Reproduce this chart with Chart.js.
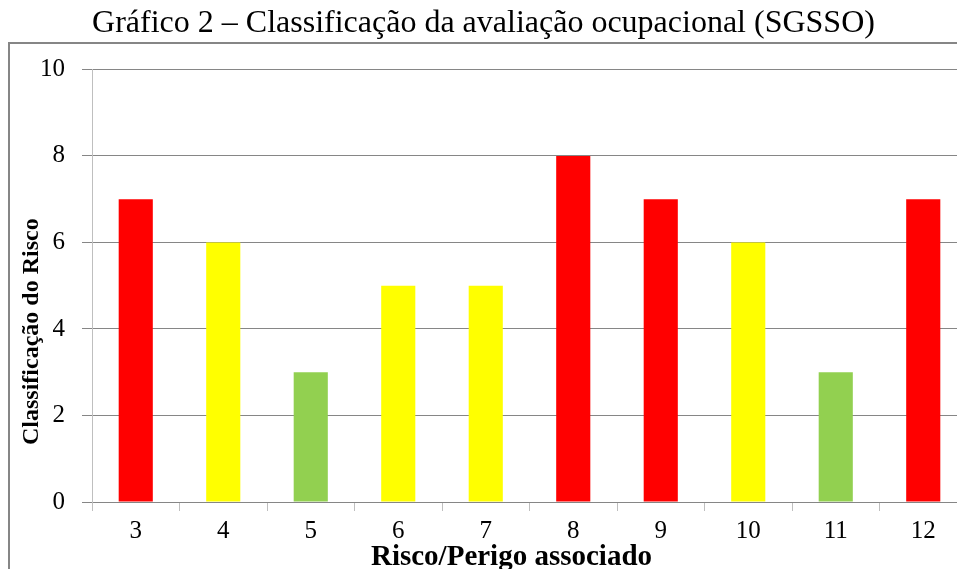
<!DOCTYPE html>
<html>
<head>
<meta charset="utf-8">
<script src="https://cdn.jsdelivr.net/npm/chart.js@4/dist/chart.umd.min.js"></script>
<style>
  html, body { margin: 0; padding: 0; background: #fff; overflow: hidden; }
  #wrap { width: 967px; height: 569px; position: relative; }
</style>
</head>
<body>
<div id="wrap"><canvas id="riskChart"></canvas></div>
<script>
const categories = ["3", "4", "5", "6", "7", "8", "9", "10", "11", "12"];
const riskValues = [7, 6, 3, 5, 5, 8, 7, 6, 3, 7];
const yTicks = [0, 2, 4, 6, 8, 10];

const chartTitle = "Gráfico 2 – Classificação da avaliação ocupacional (SGSSO)";
const xTitle = "Risco/Perigo associado";
const yTitle = "Classificação do Risco";

// cor pelo nível de risco
function riskColor(v) {
  if (v >= 7) return "#ff0000";
  if (v >= 5) return "#ffff00";
  return "#92d050";
}

const serif = "'Liberation Serif', 'Times New Roman', serif";

const frameAndTitles = {
  id: "frameAndTitles",
  beforeDraw(chart) {
    const ctx = chart.ctx;
    ctx.save();
    ctx.fillStyle = "#fff";
    ctx.fillRect(0, 0, chart.width, chart.height);
    ctx.strokeStyle = "#868686";
    ctx.lineWidth = 2;
    ctx.strokeRect(9, 43, chart.width + 20, chart.height + 20);
    ctx.restore();
  },
  afterDraw(chart) {
    const ctx = chart.ctx;
    const a = chart.chartArea;
    ctx.save();
    ctx.fillStyle = "#000";
    ctx.textAlign = "center";
    ctx.font = "bold 29px " + serif;
    ctx.textBaseline = "alphabetic";
    ctx.fillText(xTitle, (a.left + a.right) / 2 - 18, chart.height - 4);
    ctx.translate(a.left - 60, (a.top + a.bottom) / 2 + 46);
    ctx.rotate(-Math.PI / 2);
    ctx.font = "bold 24px " + serif;
    ctx.textBaseline = "middle";
    ctx.fillText(yTitle, 0, 0);
    ctx.restore();
  }
};

new Chart(document.getElementById("riskChart"), {
  type: "bar",
  data: {
    labels: categories,
    datasets: [{
      label: "Classificação",
      data: riskValues,
      backgroundColor: riskValues.map(riskColor),
      borderWidth: 0,
      barPercentage: 0.39,
      categoryPercentage: 1
    }]
  },
  options: {
    responsive: true,
    maintainAspectRatio: false,
    animation: false,
    layout: { padding: 0 },
    plugins: {
      legend: { display: false },
      tooltip: { enabled: false },
      title: {
        display: true,
        text: chartTitle,
        color: "#000",
        font: { family: serif, size: 32, weight: "normal" },
        padding: { top: 4, bottom: 27 }
      }
    },
    scales: {
      x: {
        afterFit(scale) { scale.height = 67; },
        grid: {
          display: true,
          drawOnChartArea: false,
          offset: true,
          color: "#bfbfbf",
          tickLength: 9
        },
        border: { color: "#868686", width: 1 },
        ticks: {
          color: "#000",
          padding: 5,
          font: { family: serif, size: 25 }
        }
      },
      y: {
        min: 0,
        max: 10,
        afterFit(scale) { scale.width = 92; },
        afterBuildTicks(scale) {
          scale.ticks = yTicks.map(v => ({ value: v }));
        },
        grid: { color: "#868686", tickLength: 10 },
        border: { color: "#bfbfbf", width: 1 },
        ticks: {
          color: "#000",
          padding: 17,
          font: { family: serif, size: 25 }
        }
      }
    }
  },
  plugins: [frameAndTitles]
});
</script>
</body>
</html>
